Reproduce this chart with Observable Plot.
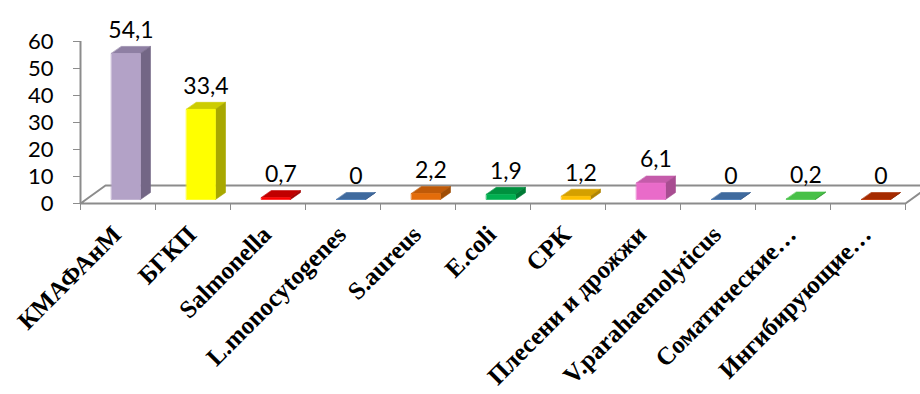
<!DOCTYPE html>
<html>
<head>
<meta charset="utf-8">
<script src="https://cdn.jsdelivr.net/npm/d3@7"></script>
<script src="https://cdn.jsdelivr.net/npm/@observablehq/plot@0.6"></script>
<style>
  html, body { margin: 0; padding: 0; background: #fff; }
</style>
</head>
<body>
<div id="chart"></div>
<script>
const categories = ["КМАФАнМ", "БГКП", "Salmonella", "L.monocytogenes", "S.aureus", "E.coli", "СРК", "Плесени и дрожжи", "V.parahaemolyticus", "Соматические…", "Ингибирующие…"];
const values = [54.1, 33.4, 0.7, 0, 2.2, 1.9, 1.2, 6.1, 0, 0.2, 0];
const valueLabels = ["54,1", "33,4", "0,7", "0", "2,2", "1,9", "1,2", "6,1", "0", "0,2", "0"];
const frontColors = ["#B3A2C7", "#FFFF00", "#FF0000", "#4F81BD", "#E46C0A", "#00B050", "#FFC000", "#E96BC9", "#4F81BD", "#4FC84F", "#C0390A"];
const sideColors  = ["#736685", "#A8A800", "#A00000", "#36598A", "#A04D05", "#007A35", "#B08400", "#A84D91", "#36598A", "#36A036", "#8A2500"];
const topColors   = ["#8E7FA3", "#CCCC00", "#C00000", "#3F6A9E", "#C05A08", "#00913F", "#D4A000", "#C55BAA", "#3F6A9E", "#48C048", "#A52A00"];
const yTicks = [0, 10, 20, 30, 40, 50, 60];

const W = 920, H = 394, mL = 80, mR = 15, mT = 41, mB = 191;
const n = categories.length;
const pxX = (W - mL - mR) / n;      // px per x unit
const pxY = (H - mT - mB) / 60;     // px per y unit
const depthX = 10 / pxX, depthY = 7 / pxY;       // bar depth
const floorX = 25 / pxX, floorY = 18 / pxY;      // floor depth

const bars = values.map((v, i) => ({i, v, label: valueLabels[i], cat: categories[i]}));

const faceMarks = [];
bars.forEach(({i, v}) => {
  const x0 = i + 0.413, x1 = i + 0.80;
  const top = [{x: x0, y: v}, {x: x1, y: v}, {x: x1 + depthX, y: v + depthY}, {x: x0 + depthX, y: v + depthY}];
  const side = [{x: x1, y: 0}, {x: x1 + depthX, y: depthY}, {x: x1 + depthX, y: v + depthY}, {x: x1, y: v}];
  const front = [{x: x0, y: 0}, {x: x1, y: 0}, {x: x1, y: v}, {x: x0, y: v}];
  [[top, topColors[i]], [side, sideColors[i]], [front, frontColors[i]]].forEach(([pts, c]) => {
    faceMarks.push(Plot.line(pts, {x: "x", y: "y", curve: "linear-closed", fill: c, stroke: c, strokeWidth: 0.6, dy: -4}));
  });
});

const floor = [{x: 0, y: 0}, {x: n, y: 0}, {x: n + floorX, y: floorY}, {x: floorX, y: floorY}];

const chart = Plot.plot({
  width: W, height: H,
  marginLeft: mL, marginRight: mR, marginTop: mT, marginBottom: mB,
  style: {background: "#fff", overflow: "visible"},
  x: {domain: [0, n], axis: null},
  y: {domain: [0, 60], axis: null},
  marks: [
    Plot.line(floor, {x: "x", y: "y", curve: "linear-closed", stroke: "#8c8c8c", strokeWidth: 2}),
    Plot.ruleX([0], {y1: 0, y2: 60, stroke: "#8c8c8c", strokeWidth: 2}),
    Plot.axisY({ticks: yTicks, tickSize: 7, tickPadding: 20, stroke: "#8c8c8c", fill: "#000", fontSize: 22, fontFamily: "Lato, 'Open Sans', sans-serif", label: null}),
    Plot.axisX({ticks: d3.range(0, n + 1), tickSize: 7, tickFormat: () => "", stroke: "#8c8c8c", label: null}),
    ...faceMarks,
    Plot.text(bars, {x: d => d.i + 0.673, y: "v", text: "label", dy: -27, fontSize: 23, fontFamily: "Lato, 'Open Sans', sans-serif", fill: "#000"}),
    Plot.text(bars, {x: d => d.i + 0.5, y: () => 0, text: "cat", rotate: -45, textAnchor: "end", dx: -1, dy: 27, fontSize: 25, fontWeight: "bold", fontFamily: "'Liberation Serif', 'Times New Roman', serif", fill: "#000"})
  ]
});
document.getElementById("chart").appendChild(chart);
</script>
</body>
</html>
